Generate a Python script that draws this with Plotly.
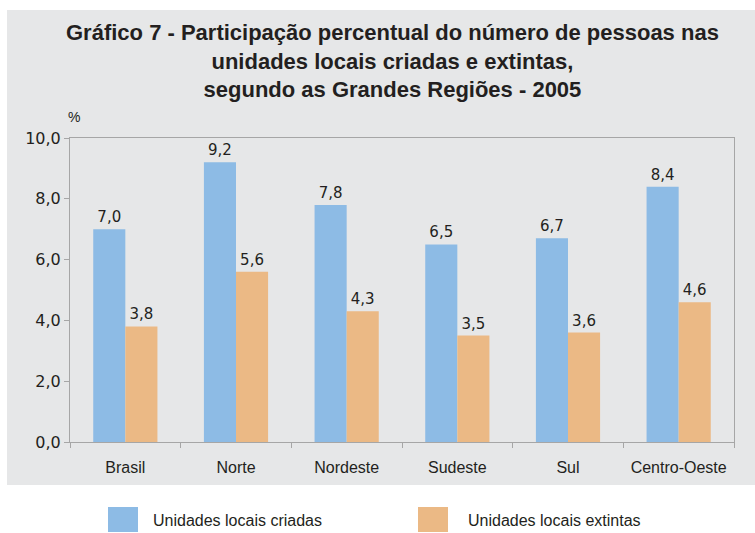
import plotly.graph_objects as go

regioes = ["Brasil", "Norte", "Nordeste", "Sudeste", "Sul", "Centro-Oeste"]
criadas = [7.0, 9.2, 7.8, 6.5, 6.7, 8.4]
extintas = [3.8, 5.6, 4.3, 3.5, 3.6, 4.6]
serie_nomes = ["Unidades locais criadas", "Unidades locais extintas"]
titulo = ("Gráfico 7 - Participação percentual do número de pessoas nas<br>"
          "unidades locais criadas e extintas,<br>"
          "segundo as Grandes Regiões - 2005")

AZUL = "#8DBBE5"
LARANJA = "#EBB985"
CORES = [AZUL, LARANJA]
TXT = "#231F20"
FONT = "Liberation Sans, Arial, sans-serif"

# plot area in pixels: x 70..734, y 138..442
PX0, PX1, PY0, PY1 = 70, 734, 138, 442
def px(x):
    return (x - PX0) / (PX1 - PX0)
def py(y):
    return (PY1 - y) / (PY1 - PY0)

def fmt(v):
    return f"{v:.1f}".replace(".", ",")

fig = go.Figure()
for nome, vals, cor in zip(serie_nomes, [criadas, extintas], CORES):
    fig.add_trace(go.Bar(
        x=regioes, y=vals, name=nome, marker=dict(color=cor, line=dict(width=0)),
        text=[fmt(v) for v in vals], textposition="outside",
        textfont=dict(family="DejaVu Sans, sans-serif", size=15, color=TXT),
        cliponaxis=False, hoverinfo="skip", showlegend=False,
    ))

shapes = [dict(type="rect", xref="paper", yref="paper", layer="below",
               x0=px(7), x1=px(755), y0=py(485), y1=py(10),
               fillcolor="#E6E7E8", line=dict(width=0))]
annotations = [
    dict(text=f"<b>{titulo}</b>", xref="paper", yref="paper", x=px(392), y=py(18),
         xanchor="center", yanchor="top", showarrow=False,
         font=dict(family=FONT, size=22, color=TXT), align="center"),
    dict(text="%", xref="paper", yref="paper", x=px(66), y=py(117), xanchor="left",
         yanchor="middle", showarrow=False,
         font=dict(family=FONT, size=14, color=TXT)),
]
leg_x = [(108, 151), (418, 466)]
for (sx, tx), nome, cor in zip(leg_x, serie_nomes, CORES):
    shapes.append(dict(type="rect", xref="paper", yref="paper",
                       x0=px(sx), x1=px(sx + 30), y0=py(532), y1=py(507),
                       fillcolor=cor, line=dict(width=0)))
    annotations.append(dict(text=nome, xref="paper", yref="paper", x=px(tx), y=py(520),
                            xanchor="left", yanchor="middle", showarrow=False,
                            font=dict(family=FONT, size=16, color=TXT)))

fig.update_layout(
    width=755, height=533,
    paper_bgcolor="white", plot_bgcolor="white",
    margin=dict(l=PX0, r=755 - PX1, t=PY0, b=533 - PY1, autoexpand=False),
    barmode="group", bargap=0.42, bargroupgap=0,
    separators=",.",
    showlegend=False,
    font=dict(family=FONT, color=TXT),
    shapes=shapes,
    annotations=annotations,
)
fig.update_xaxes(showline=True, linecolor="#A6A6A6", linewidth=1, mirror=True,
                 ticks="outside", tickson="boundaries", ticklen=5, tickcolor="#A6A6A6",
                 tickangle=0, automargin=False, ticklabelstandoff=11,
                 tickfont=dict(family=FONT, size=16, color=TXT), showgrid=False)
fig.update_yaxes(range=[0, 10], dtick=2, tickformat=".1f", showline=True,
                 linecolor="#A6A6A6", linewidth=1, mirror=True, ticks="outside",
                 ticklen=5, tickcolor="#A6A6A6", showgrid=False, zeroline=False,
                 automargin=False,
                 tickfont=dict(family="DejaVu Sans, sans-serif", size=16, color=TXT))

fig.write_html("out.html", config={"displayModeBar": False},
               post_script="document.body.style.margin='0';")
